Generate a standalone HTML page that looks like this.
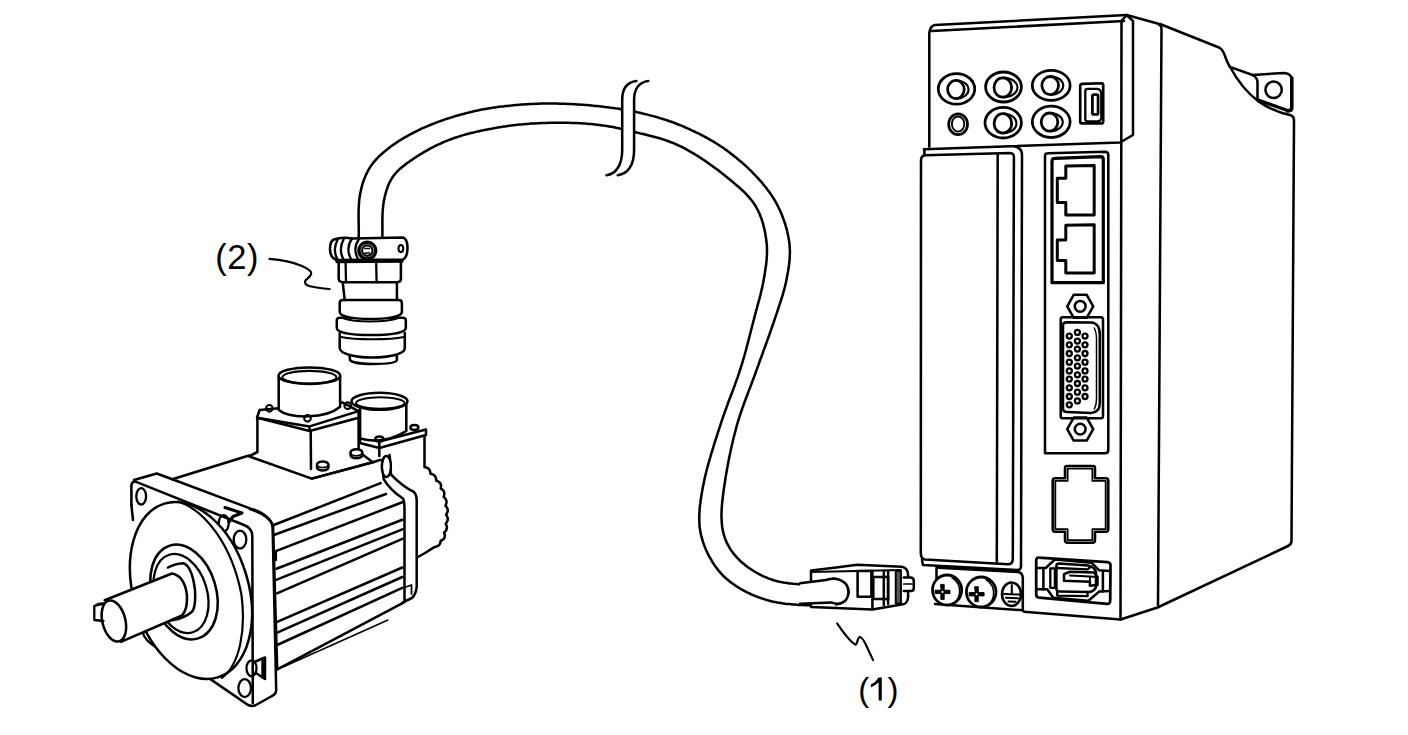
<!DOCTYPE html>
<html><head><meta charset="utf-8">
<style>
html,body{margin:0;padding:0;background:#fff;width:1408px;height:735px;overflow:hidden}
svg{display:block}
text{font-family:"Liberation Sans",sans-serif}
</style></head><body>
<svg width="1408" height="735" viewBox="0 0 1408 735">
<rect width="1408" height="735" fill="#fff"/>
<g fill="none" stroke="#000" stroke-width="2.53" stroke-linejoin="round" stroke-linecap="round">
<!-- CABLE -->
<g id="cable">
<path d="M358.7,236.7 L358.7,234.7 L358.8,232.7 L358.8,230.7 L358.7,228.7 L358.7,226.7 L358.7,224.7 L358.7,222.7 L358.6,220.7 L358.6,218.7 L358.6,216.7 L358.6,214.7 L358.6,212.7 L358.6,210.7 L358.7,208.7 L358.8,206.7 L358.9,204.7 L359.0,202.7 L359.2,200.7 L359.4,198.7 L359.7,196.8 L360.0,194.8 L360.4,192.8 L360.8,190.9 L361.2,188.9 L361.7,187.0 L362.2,185.1 L362.8,183.2 L363.4,181.3 L364.1,179.4 L364.8,177.5 L365.6,175.7 L366.4,173.9 L367.3,172.1 L368.2,170.3 L369.2,168.6 L370.3,166.9 L371.4,165.3 L372.6,163.7 L373.8,162.1 L375.1,160.6 L376.4,159.1 L377.8,157.7 L379.2,156.2 L380.7,154.9 L382.2,153.5 L383.7,152.2 L385.2,150.9 L386.8,149.7 L388.3,148.4 L389.9,147.2 L391.5,146.0 L393.1,144.9 L394.8,143.7 L396.4,142.6 L398.1,141.5 L399.8,140.4 L401.5,139.4 L403.2,138.3 L404.9,137.3 L406.7,136.3 L408.4,135.4 L410.2,134.4 L411.9,133.5 L413.7,132.6 L415.5,131.7 L417.3,130.8 L419.1,129.9 L420.9,129.0 L422.7,128.2 L424.5,127.4 L426.4,126.6 L428.2,125.8 L430.1,125.0 L431.9,124.3 L433.8,123.6 L435.6,122.8 L437.5,122.1 L439.4,121.4 L441.3,120.8 L443.1,120.1 L445.0,119.4 L446.9,118.8 L448.8,118.2 L450.7,117.6 L452.6,117.0 L454.6,116.4 L456.5,115.8 L458.4,115.3 L460.3,114.7 L462.2,114.2 L464.2,113.7 L466.1,113.1 L468.0,112.7 L470.0,112.2 L471.9,111.7 L473.9,111.3 L475.8,110.8 L477.8,110.4 L479.7,110.0 L481.7,109.6 L483.7,109.2 L485.6,108.9 L487.6,108.6 L489.6,108.2 L491.6,107.9 L493.5,107.6 L495.5,107.4 L497.5,107.1 L499.5,106.8 L501.5,106.6 L503.5,106.4 L505.4,106.1 L507.4,105.9 L509.4,105.7 L511.4,105.5 L513.4,105.3 L515.4,105.1 L517.4,105.0 L519.4,104.8 L521.4,104.6 L523.4,104.5 L525.4,104.3 L527.4,104.2 L529.3,104.1 L531.3,104.0 L533.3,103.9 L535.3,103.8 L537.3,103.7 L539.3,103.7 L541.3,103.6 L543.3,103.6 L545.3,103.6 L547.3,103.6 L549.3,103.6 L551.3,103.6 L553.3,103.6 L555.3,103.6 L557.3,103.6 L559.3,103.7 L561.3,103.7 L563.3,103.8 L565.3,103.8 L567.3,103.9 L569.3,104.0 L571.3,104.1 L573.3,104.2 L575.3,104.3 L577.3,104.4 L579.3,104.5 L581.3,104.7 L583.3,104.8 L585.3,105.0 L587.3,105.1 L589.3,105.3 L591.3,105.5 L593.3,105.7 L595.3,105.9 L597.2,106.1 L599.2,106.3 L601.2,106.5 L603.2,106.7 L605.2,107.0 L607.2,107.2 L609.2,107.5 L611.1,107.7 L613.1,108.0 L615.1,108.3 L617.1,108.5 L619.1,108.8 L621.0,109.2 L623.0,109.5 L625.0,109.8 L627.0,110.2 L628.9,110.5 L630.9,110.9 L632.8,111.3 L634.8,111.7 L636.8,112.1 L638.7,112.6 L640.7,113.0 L642.6,113.5 L644.6,113.9 L646.5,114.4 L648.4,114.9 L650.4,115.4 L652.3,115.9 L654.2,116.4 L656.2,116.9 L658.1,117.5 L660.0,118.1 L661.9,118.7 L663.8,119.3 L665.7,119.9 L667.6,120.5 L669.5,121.2 L671.4,121.8 L673.3,122.5 L675.1,123.2 L677.0,124.0 L678.9,124.7 L680.7,125.4 L682.6,126.2 L684.4,127.0 L686.2,127.8 L688.1,128.6 L689.9,129.4 L691.7,130.3 L693.5,131.1 L695.3,132.0 L697.1,132.8 L698.9,133.7 L700.7,134.6 L702.5,135.5 L704.2,136.5 L706.0,137.4 L707.8,138.4 L709.5,139.4 L711.2,140.4 L713.0,141.4 L714.7,142.4 L716.4,143.5 L718.1,144.5 L719.7,145.6 L721.4,146.7 L723.1,147.8 L724.7,149.0 L726.3,150.1 L727.9,151.3 L729.5,152.5 L731.1,153.7 L732.7,154.9 L734.3,156.2 L735.9,157.4 L737.4,158.7 L738.9,160.0 L740.5,161.3 L742.0,162.6 L743.5,163.9 L745.0,165.2 L746.4,166.6 L747.9,167.9 L749.3,169.3 L750.8,170.7 L752.2,172.1 L753.6,173.6 L755.0,175.0 L756.3,176.5 L757.7,177.9 L759.0,179.4 L760.4,180.9 L761.7,182.4 L763.0,183.9 L764.2,185.5 L765.5,187.0 L766.7,188.6 L767.9,190.2 L769.1,191.8 L770.3,193.5 L771.4,195.1 L772.5,196.8 L773.6,198.5 L774.6,200.2 L775.6,201.9 L776.6,203.6 L777.5,205.4 L778.4,207.2 L779.3,209.0 L780.1,210.8 L780.9,212.6 L781.7,214.5 L782.4,216.3 L783.1,218.2 L783.8,220.1 L784.5,222.0 L785.1,223.9 L785.7,225.8 L786.2,227.7 L786.8,229.6 L787.2,231.6 L787.7,233.5 L788.1,235.5 L788.5,237.4 L788.8,239.4 L789.1,241.4 L789.4,243.3 L789.6,245.3 L789.7,247.3 L789.8,249.3 L789.9,251.3 L789.9,253.3 L789.8,255.3 L789.7,257.3 L789.6,259.3 L789.4,261.3 L789.2,263.3 L789.0,265.2 L788.7,267.2 L788.4,269.2 L788.1,271.2 L787.7,273.1 L787.4,275.1 L787.0,277.1 L786.6,279.0 L786.2,281.0 L785.8,283.0 L785.3,284.9 L784.9,286.8 L784.4,288.8 L783.9,290.7 L783.3,292.6 L782.8,294.6 L782.2,296.5 L781.6,298.4 L781.0,300.3 L780.4,302.2 L779.7,304.1 L779.1,306.0 L778.5,307.9 L777.9,309.8 L777.2,311.7 L776.6,313.6 L775.9,315.5 L775.3,317.4 L774.7,319.3 L774.0,321.2 L773.4,323.1 L772.7,324.9 L772.1,326.8 L771.4,328.7 L770.8,330.6 L770.1,332.5 L769.5,334.4 L768.8,336.3 L768.1,338.2 L767.4,340.0 L766.8,341.9 L766.1,343.8 L765.4,345.7 L764.7,347.6 L764.0,349.4 L763.3,351.3 L762.7,353.2 L762.0,355.1 L761.3,357.0 L760.6,358.8 L759.9,360.7 L759.2,362.6 L758.6,364.5 L757.9,366.4 L757.2,368.2 L756.5,370.1 L755.8,372.0 L755.2,373.9 L754.5,375.8 L753.8,377.6 L753.1,379.5 L752.4,381.4 L751.7,383.2 L751.0,385.1 L750.3,387.0 L749.5,388.9 L748.8,390.7 L748.1,392.6 L747.4,394.5 L746.7,396.3 L746.0,398.2 L745.3,400.1 L744.6,402.0 L743.9,403.8 L743.3,405.7 L742.6,407.6 L741.9,409.5 L741.3,411.4 L740.6,413.3 L740.0,415.2 L739.4,417.1 L738.8,419.0 L738.2,420.9 L737.6,422.8 L737.1,424.7 L736.5,426.7 L736.0,428.6 L735.5,430.5 L735.0,432.5 L734.5,434.4 L734.0,436.3 L733.5,438.3 L733.0,440.2 L732.6,442.2 L732.1,444.1 L731.7,446.1 L731.2,448.0 L730.8,450.0 L730.4,451.9 L730.0,453.9 L729.6,455.8 L729.2,457.8 L728.8,459.8 L728.4,461.7 L728.0,463.7 L727.7,465.7 L727.3,467.6 L727.0,469.6 L726.6,471.6 L726.3,473.5 L725.9,475.5 L725.6,477.5 L725.3,479.5 L725.0,481.4 L724.7,483.4 L724.4,485.4 L724.1,487.4 L723.8,489.3 L723.5,491.3 L723.3,493.3 L723.0,495.3 L722.8,497.3 L722.6,499.3 L722.3,501.2 L722.1,503.2 L722.0,505.2 L721.8,507.2 L721.7,509.2 L721.6,511.2 L721.5,513.2 L721.5,515.2 L721.5,517.2 L721.6,519.2 L721.7,521.2 L721.8,523.2 L722.0,525.2 L722.2,527.2 L722.6,529.1 L722.9,531.1 L723.4,533.0 L723.9,534.9 L724.5,536.8 L725.1,538.7 L725.9,540.6 L726.7,542.4 L727.5,544.2 L728.5,545.9 L729.5,547.7 L730.5,549.4 L731.6,551.0 L732.8,552.6 L734.0,554.2 L735.3,555.7 L736.6,557.2 L738.0,558.7 L739.4,560.1 L740.8,561.5 L742.3,562.8 L743.9,564.1 L745.4,565.3 L747.0,566.5 L748.6,567.7 L750.3,568.8 L751.9,569.9 L753.6,571.0 L755.3,572.0 L757.1,573.0 L758.8,574.0 L760.6,574.9 L762.4,575.8 L764.2,576.6 L766.0,577.4 L767.9,578.2 L769.7,578.9 L771.6,579.5 L773.5,580.2 L775.4,580.7 L777.4,581.2 L779.3,581.7 L781.2,582.1 L783.2,582.5 L785.2,582.8 L787.2,583.1 L789.1,583.4 L791.1,583.6 L793.1,583.8 L795.1,583.9 L797.1,584.1 L799.1,584.2 L801.1,584.2 L803.1,584.3 L805.1,584.3 L807.1,584.3 L809.1,584.3 L811.1,584.2 L813.1,584.1 L815.1,583.9 L817.1,583.7 L819.0,583.4 L821.0,583.1 L822.9,582.7 L824.9,582.2 L826.8,581.7 L828.8,581.3 L830.6,580.6 L832.5,579.8 L834.4,579.2"/>
<path d="M382.3,236.7 L382.4,234.7 L382.4,232.7 L382.4,230.7 L382.4,228.7 L382.4,226.7 L382.4,224.7 L382.4,222.7 L382.4,220.7 L382.4,218.7 L382.5,216.7 L382.5,214.7 L382.6,212.7 L382.7,210.7 L382.9,208.7 L383.1,206.7 L383.3,204.8 L383.6,202.8 L383.9,200.8 L384.3,198.9 L384.7,196.9 L385.2,195.0 L385.7,193.0 L386.3,191.1 L386.9,189.2 L387.5,187.3 L388.2,185.5 L389.0,183.6 L389.9,181.8 L390.8,180.1 L391.8,178.4 L392.9,176.7 L394.1,175.1 L395.3,173.6 L396.7,172.1 L398.0,170.7 L399.5,169.3 L401.0,168.0 L402.5,166.7 L404.1,165.5 L405.7,164.3 L407.3,163.1 L408.9,161.9 L410.5,160.7 L412.2,159.6 L413.8,158.5 L415.5,157.4 L417.2,156.3 L418.9,155.2 L420.6,154.2 L422.3,153.1 L424.0,152.1 L425.7,151.1 L427.5,150.1 L429.2,149.2 L431.0,148.2 L432.7,147.3 L434.5,146.4 L436.3,145.5 L438.1,144.6 L439.9,143.8 L441.8,143.0 L443.6,142.2 L445.4,141.4 L447.3,140.6 L449.1,139.9 L451.0,139.2 L452.9,138.5 L454.8,137.8 L456.7,137.2 L458.6,136.6 L460.5,136.0 L462.4,135.4 L464.3,134.9 L466.2,134.3 L468.2,133.8 L470.1,133.3 L472.0,132.8 L474.0,132.4 L475.9,131.9 L477.9,131.4 L479.8,131.0 L481.8,130.6 L483.7,130.2 L485.7,129.8 L487.7,129.4 L489.6,129.0 L491.6,128.7 L493.6,128.3 L495.5,127.9 L497.5,127.6 L499.5,127.3 L501.4,127.0 L503.4,126.6 L505.4,126.4 L507.4,126.1 L509.4,125.8 L511.3,125.5 L513.3,125.3 L515.3,125.1 L517.3,124.8 L519.3,124.6 L521.3,124.4 L523.3,124.3 L525.3,124.1 L527.3,123.9 L529.3,123.8 L531.2,123.6 L533.2,123.5 L535.2,123.4 L537.2,123.3 L539.2,123.2 L541.2,123.1 L543.2,123.0 L545.2,122.9 L547.2,122.9 L549.2,122.8 L551.2,122.8 L553.2,122.7 L555.2,122.7 L557.2,122.7 L559.2,122.7 L561.2,122.7 L563.2,122.7 L565.2,122.8 L567.2,122.8 L569.2,122.8 L571.2,122.9 L573.2,123.0 L575.2,123.0 L577.2,123.1 L579.2,123.2 L581.2,123.3 L583.2,123.5 L585.2,123.6 L587.2,123.7 L589.2,123.9 L591.2,124.1 L593.2,124.3 L595.2,124.5 L597.1,124.7 L599.1,124.9 L601.1,125.2 L603.1,125.5 L605.1,125.7 L607.0,126.1 L609.0,126.4 L611.0,126.7 L613.0,127.1 L614.9,127.5 L616.9,127.9 L618.8,128.3 L620.8,128.7 L622.7,129.1 L624.7,129.6 L626.6,130.0 L628.6,130.5 L630.5,131.0 L632.5,131.5 L634.4,131.9 L636.4,132.4 L638.3,132.9 L640.2,133.4 L642.2,133.8 L644.1,134.3 L646.1,134.8 L648.0,135.3 L650.0,135.7 L651.9,136.2 L653.8,136.7 L655.8,137.3 L657.7,137.8 L659.6,138.3 L661.5,138.9 L663.4,139.5 L665.3,140.1 L667.2,140.8 L669.1,141.5 L671.0,142.2 L672.8,142.9 L674.7,143.7 L676.5,144.5 L678.3,145.3 L680.1,146.1 L681.9,147.0 L683.7,147.9 L685.5,148.9 L687.2,149.8 L689.0,150.8 L690.7,151.8 L692.4,152.8 L694.1,153.8 L695.8,154.9 L697.5,155.9 L699.2,157.0 L700.9,158.1 L702.6,159.2 L704.2,160.3 L705.9,161.4 L707.5,162.6 L709.2,163.7 L710.8,164.9 L712.4,166.1 L714.0,167.2 L715.6,168.4 L717.2,169.6 L718.8,170.8 L720.4,172.1 L722.0,173.3 L723.6,174.5 L725.1,175.8 L726.7,177.0 L728.2,178.3 L729.8,179.5 L731.3,180.8 L732.9,182.1 L734.4,183.4 L735.9,184.7 L737.5,186.0 L739.0,187.3 L740.5,188.6 L741.9,190.0 L743.4,191.3 L744.8,192.7 L746.2,194.2 L747.6,195.6 L748.9,197.1 L750.2,198.6 L751.5,200.2 L752.7,201.8 L753.8,203.4 L754.9,205.0 L756.0,206.7 L756.9,208.5 L757.9,210.2 L758.7,212.0 L759.6,213.9 L760.3,215.7 L761.0,217.6 L761.7,219.4 L762.3,221.3 L762.9,223.2 L763.4,225.2 L763.9,227.1 L764.4,229.1 L764.8,231.0 L765.2,233.0 L765.5,234.9 L765.8,236.9 L766.1,238.9 L766.4,240.9 L766.6,242.9 L766.8,244.8 L766.9,246.8 L767.0,248.8 L767.0,250.8 L767.0,252.8 L766.9,254.8 L766.8,256.8 L766.7,258.8 L766.5,260.8 L766.3,262.8 L766.1,264.8 L765.8,266.7 L765.5,268.7 L765.2,270.7 L764.9,272.7 L764.6,274.7 L764.3,276.6 L763.9,278.6 L763.6,280.6 L763.2,282.5 L762.8,284.5 L762.4,286.4 L762.0,288.4 L761.5,290.3 L761.0,292.3 L760.6,294.2 L760.1,296.2 L759.6,298.1 L759.1,300.0 L758.5,302.0 L758.0,303.9 L757.5,305.8 L757.0,307.8 L756.4,309.7 L755.9,311.6 L755.4,313.6 L754.9,315.5 L754.4,317.4 L753.9,319.4 L753.4,321.3 L752.9,323.2 L752.4,325.2 L751.9,327.1 L751.4,329.0 L750.9,331.0 L750.4,332.9 L749.9,334.9 L749.4,336.8 L748.9,338.7 L748.4,340.7 L747.9,342.6 L747.4,344.5 L746.9,346.5 L746.4,348.4 L745.9,350.3 L745.3,352.3 L744.8,354.2 L744.3,356.1 L743.7,358.0 L743.1,360.0 L742.6,361.9 L742.0,363.8 L741.4,365.7 L740.8,367.6 L740.2,369.5 L739.6,371.4 L739.0,373.3 L738.3,375.2 L737.7,377.1 L737.0,379.0 L736.3,380.9 L735.6,382.7 L735.0,384.6 L734.3,386.5 L733.6,388.4 L732.9,390.3 L732.2,392.1 L731.5,394.0 L730.8,395.9 L730.1,397.7 L729.3,399.6 L728.6,401.5 L727.9,403.4 L727.3,405.2 L726.6,407.1 L725.9,409.0 L725.2,410.9 L724.5,412.8 L723.9,414.6 L723.2,416.5 L722.6,418.4 L721.9,420.3 L721.3,422.2 L720.7,424.1 L720.1,426.0 L719.4,427.9 L718.8,429.8 L718.2,431.7 L717.6,433.6 L717.0,435.5 L716.4,437.4 L715.8,439.3 L715.1,441.2 L714.5,443.2 L713.9,445.1 L713.4,447.0 L712.8,448.9 L712.2,450.8 L711.6,452.7 L711.0,454.6 L710.5,456.5 L709.9,458.5 L709.3,460.4 L708.8,462.3 L708.3,464.2 L707.7,466.2 L707.2,468.1 L706.7,470.0 L706.2,472.0 L705.8,473.9 L705.3,475.9 L704.8,477.8 L704.4,479.8 L704.0,481.7 L703.6,483.7 L703.2,485.6 L702.8,487.6 L702.4,489.6 L702.1,491.5 L701.7,493.5 L701.4,495.5 L701.1,497.4 L700.8,499.4 L700.5,501.4 L700.3,503.4 L700.0,505.4 L699.8,507.4 L699.6,509.4 L699.5,511.3 L699.4,513.3 L699.3,515.3 L699.3,517.3 L699.3,519.3 L699.3,521.3 L699.4,523.3 L699.5,525.3 L699.7,527.3 L700.0,529.3 L700.3,531.2 L700.7,533.2 L701.1,535.2 L701.6,537.1 L702.1,539.0 L702.7,540.9 L703.3,542.8 L703.9,544.7 L704.7,546.6 L705.4,548.4 L706.2,550.2 L707.1,552.1 L707.9,553.9 L708.8,555.6 L709.8,557.4 L710.8,559.1 L711.8,560.9 L712.8,562.6 L713.9,564.2 L715.0,565.9 L716.2,567.5 L717.4,569.1 L718.6,570.7 L719.9,572.2 L721.2,573.7 L722.6,575.1 L724.0,576.5 L725.5,577.9 L727.0,579.2 L728.5,580.5 L730.1,581.7 L731.7,582.9 L733.3,584.1 L734.9,585.3 L736.6,586.4 L738.3,587.4 L740.0,588.5 L741.7,589.5 L743.5,590.4 L745.2,591.4 L747.0,592.3 L748.8,593.2 L750.6,594.0 L752.4,594.8 L754.3,595.6 L756.1,596.3 L758.0,597.1 L759.9,597.7 L761.8,598.4 L763.6,599.0 L765.6,599.6 L767.5,600.2 L769.4,600.7 L771.3,601.2 L773.3,601.7 L775.2,602.1 L777.2,602.5 L779.2,602.8 L781.1,603.1 L783.1,603.4 L785.1,603.7 L787.1,603.9 L789.1,604.1 L791.1,604.3 L793.1,604.5 L795.0,604.6 L797.0,604.8 L799.0,604.9 L801.0,605.0 L803.0,605.1 L805.0,605.2 L807.0,605.2 L809.0,605.3 L811.0,605.3 L813.0,605.3 L815.0,605.2 L817.0,605.1 L819.0,605.0 L821.0,604.8 L823.0,604.6 L824.9,604.2 L826.9,603.9 L828.9,603.6 L830.8,603.1 L832.7,602.5 L834.6,601.9"/>
<!-- break marks -->
<path d="M622.2,100 C622.2,88 628,82 636.4,81 L648.3,81 C640,82 634.1,88 634.1,100 L634.1,150 C634.1,165 628,174 617.7,175.2 L606.5,175.2 C616,174 622.2,165 622.2,150 Z" fill="#fff" stroke="none"/>
<path d="M606.5,175.2 C616,174 622.2,165 622.2,150 L622.2,100 C622.2,88 628,82 636.4,81"/>
<path d="M617.7,175.2 C628,174 634.1,165 634.1,150 L634.1,100 C634.1,88 640,82 648.3,81"/>
</g>
<!-- PLUG 1 -->
<g id="plug1">
<path d="M811,570.5 L836.2,567.6 L857.1,564.8 L901.9,566.7 Q908.1,568 908.1,575 L908.1,597.6 Q907,604 902.9,604.3 L872.4,609.5 L811,607.1 Z" fill="#fff"/>
<path d="M811,572 L857.1,571 L901,570" stroke-width="2.07"/>
<path d="M800,583.3 L826,580 Q838,576 846,584 Q851,592 846,600 Q840,606 831.4,602.4 L800,603.8" fill="#fff"/>
<path d="M833,578 Q848,580 849,592 Q848,603 836,605" stroke-width="1.72"/>
<rect x="857.6" y="571" width="13.8" height="25.7"/>
<path d="M872.4,571 L872.4,609"/>
<rect x="873.3" y="577.1" width="14.8" height="21.9"/>
<path d="M883.8,571 L883.8,605"/>
<path d="M888.1,571 L888.1,604"/>
<rect x="895.7" y="571" width="5.3" height="32.3" fill="#555" stroke-width="1.84"/>
<path d="M903.8,577.6 L911,577.6 Q913.8,578 913.8,581 L913.8,588 Q913.8,591 911,591 L903.8,591" fill="#fff"/>
<path d="M903.8,584 L912,584" stroke-width="1.72"/>
</g>
<!-- CONNECTOR 2 -->
<g id="conn2">
<path d="M349.6,355 L350,360 C352,363 365,364 373,364 C385,364 396,363 396.9,360 L396.9,355" fill="#fff"/>
<path d="M339.7,333 L339.7,348 C340,354 355,357.5 372,357.5 C390,357.5 404.8,354 404.8,348 L404.8,333" fill="#fff"/>
<path d="M341,337 C355,340 390,340 404,337" stroke-width="2.07"/>
<path d="M336.8,320 Q336.8,317.7 340,317.7 L402.6,317.7 Q405.8,317.7 405.8,320 L405.8,328 C405.8,333 390,335 371.3,335 C352,335 336.8,333 336.8,328 Z" fill="#fff"/>
<path d="M339.7,303 Q339.7,300 343,300 L398.5,300 Q401.9,300 401.9,303 L401.9,312 C401.9,317 385,319 370.8,319 C356,319 339.7,317 339.7,312 Z" fill="#fff"/>
<path d="M344,318.5 C355,322.5 385,322.5 397,318.5" stroke-width="2.07"/>
<path d="M342.7,282.2 L344.7,300 M396.9,282.2 L396.9,300"/>
<path d="M338.7,262 L338.7,279 Q339,282.2 343,282.2 L397,282.2 Q400.9,282 400.9,279 L400.9,262" fill="#fff"/>
<path d="M345.6,263 L346,282 M376.2,263 L376.6,282" stroke-width="2.30"/>
<path d="M337,261.5 L402,261" stroke-width="3.45"/>
<path d="M334,239.5 Q342,236.5 352,238.5 L403,237.5 Q407.5,239 407.5,248 Q407.5,257 403,259.5 L337,260 Q330,258 330,249 Q330,241 334,239.5 Z" fill="#fff"/>
<path d="M338,239 Q332,249 337.5,259.5 M344,238.5 Q338,249 343.5,259.5 M352,238.5 Q345,249 351.5,259.8 M359,239 Q352,249 358.5,259.8" stroke-width="2.30"/>
<circle cx="367.3" cy="250.6" r="8.4" fill="#fff" stroke-width="3.4"/>
<circle cx="367.3" cy="250.6" r="5.2" stroke-width="2.2"/>
<path d="M365,248.5 L369.5,248.5 M365,253 L369.5,253" stroke-width="1.72"/>
<ellipse cx="400.9" cy="248.6" rx="2.4" ry="3.5" stroke-width="2.07"/>
</g>
<!-- squiggles -->
<path d="M269.4,258.8 C280,259.5 293,262 302,265.9 C308,268.5 312,271 311.2,274 C310.5,277 306,279 305.1,281.2 C304.5,284 307,285.5 310,286.3 C316,287.8 323,288.5 329.6,289" stroke-width="2.18"/>
<path d="M837.2,623.5 C843,632 849,641 855.2,644.4 C857.5,645.5 857,638 859.7,637 C862,636.5 864,641 866,645 L873.1,660.1" stroke-width="2.18"/>
<!-- MOTOR -->
<g id="motor">
<!-- rear housing jagged -->
<path d="M424.5,436 L424.5,467 L424.5,467.0 L425.6,467.3 L426.7,467.7 L427.7,468.1 L428.6,468.7 L429.2,469.5 L429.8,470.4 L430.1,471.4 L430.3,472.5 L430.5,473.7 L431.6,474.0 L432.7,474.4 L433.7,474.9 L434.5,475.6 L435.1,476.3 L435.6,477.3 L436.0,478.3 L436.2,479.4 L436.3,480.6 L437.4,481.1 L438.4,481.6 L439.3,482.2 L440.0,483.0 L440.6,483.9 L440.9,484.9 L441.0,486.1 L440.9,487.2 L440.7,488.4 L441.7,489.1 L442.6,489.8 L443.3,490.6 L443.9,491.5 L444.2,492.5 L444.3,493.5 L444.2,494.6 L444.0,495.8 L443.7,496.9 L444.5,497.7 L445.3,498.6 L445.9,499.5 L446.3,500.4 L446.5,501.4 L446.5,502.5 L446.3,503.5 L445.9,504.6 L445.5,505.7 L446.2,506.6 L446.9,507.6 L447.4,508.5 L447.7,509.5 L447.7,510.6 L447.6,511.6 L447.2,512.6 L446.7,513.7 L446.1,514.7 L446.7,515.7 L447.2,516.7 L447.6,517.7 L447.8,518.7 L447.7,519.8 L447.5,520.8 L447.0,521.8 L446.4,522.7 L445.7,523.7 L446.2,524.7 L446.6,525.8 L446.9,526.9 L446.9,527.9 L446.7,528.9 L446.4,529.9 L445.8,530.8 L445.0,531.7 L444.2,532.5 L444.5,533.7 L444.8,534.8 L444.8,535.9 L444.7,537.0 L444.3,538.0 L443.7,538.9 L442.8,539.7 L441.8,540.3 L440.7,540.7 L440.5,541.9 L440.2,543.1 L439.8,544.1 L439.1,544.9 L438.4,545.6 L437.5,546.1 L436.5,546.5 L435.4,546.8 L434.3,547.1 L425,553 L417,557.5" fill="#fff"/>
<!-- encoder connector -->
<path d="M360,437 L379.3,441.5 L426,429.5 L426,435 L379.3,448 L360,443 Z" fill="#fff"/>
<path d="M379.3,441.5 L379.3,456"/>
<path d="M360.1,403 L360.1,438.5 Q383,445 406.3,431 L406.3,403" fill="#fff"/>
<ellipse cx="379.5" cy="401.2" rx="28" ry="8.5" fill="#fff"/>
<ellipse cx="380.3" cy="403" rx="24.3" ry="5.8" stroke-width="2.07"/>
<ellipse cx="379.3" cy="439" rx="4" ry="2.4" stroke-width="2.53"/>
<ellipse cx="414.4" cy="427.5" rx="4" ry="2.4" stroke-width="2.53"/>
<!-- power box -->
<path d="M257.4,417.7 L257.4,452 L249,456.3 L311.8,478.6 L372.8,462.3 L358.6,451.4 L358.6,417.7" fill="#fff"/>
<path d="M310.7,430.7 L311,469"/>
<path d="M257,417.7 L259.6,410 L342.3,402.4 L358.6,411.1 L309.6,426.4 Z" fill="#fff"/>
<path d="M257.4,417.7 L309.6,431 L358.6,417.7 L358.6,411.1 M309.6,426.4 L309.6,431"/>
<path d="M278.7,375.7 L278.7,410 C290,419 326,419 340.1,406.8 L340.1,375.7" fill="#fff"/>
<ellipse cx="309.4" cy="375.7" rx="30.8" ry="8.3" fill="#fff"/>
<ellipse cx="309.4" cy="377.2" rx="27" ry="6.3" stroke-width="2.07"/>
<circle cx="269.4" cy="408.3" r="3.3" stroke-width="2.07"/>
<circle cx="307.5" cy="418.3" r="3.3" stroke-width="2.07"/>
<circle cx="347.7" cy="405.7" r="3.3" stroke-width="2.07"/>
<path d="M317,464.5 a5.7,3 0 0 1 11.4,0 L328.4,467.5 a5.7,3 0 0 1 -11.4,0 Z" fill="#fff"/>
<path d="M317,464.5 a5.7,3 0 0 0 11.4,0" stroke-width="1.72"/>
<path d="M350.5,452.5 a5.9,3.3 0 0 1 11.8,0 L362.3,455 a5.9,3.3 0 0 1 -11.8,0 Z" fill="#fff"/>
<path d="M350.5,452.5 a5.9,3.3 0 0 0 11.8,0" stroke-width="1.72"/>
<!-- body top -->
<path d="M172.3,479.2 L249,455.5"/>
<path d="M311.8,478.6 L372.8,462.3 L380,460"/>
<!-- fins side face -->
<path d="M250,509 Q268,515 273,525 L277.2,669.3"/>
<path d="M273.1,525.3 L380.6,483.1 M274.5,534.8 L386,494 M275.8,551.1 L402.3,502.2 M276.5,568.8 L402.3,519.8 M276.8,579.7 L402.3,529.4 M277,593.3 L402.3,538.9 M277.2,621.9 L402.3,567.5 M277.2,632.7 L402.3,577 M277.2,645 L402.3,587.9 M277.3,669.3 L404,602.4"/>
<path d="M275.8,551.1 L275.8,560" />
<path d="M283,667 L388,620" stroke-width="1.38"/>
<!-- clamp band -->
<path d="M382.4,459.6 Q383,472 383.7,479.1 Q390,490 403.2,498.7 Q404.5,502 404.5,508 L404.5,601.5 L402,603" fill="none"/>
<path d="M389.5,455 Q391,466 390.9,474.3 Q402,486 414,492 Q416.7,495 416.7,500 L416.7,586.8 Q416,594 412,598 L404.5,601.5"/>
<path d="M405.8,587 L411.5,585 L411.5,594" stroke-width="1.8"/>
<ellipse cx="386.3" cy="466.5" rx="4.6" ry="10.5" stroke-width="2.3" fill="#fff"/><path d="M384,458 Q380.5,466 384,476" stroke-width="1.6"/>
<!-- flange -->
<path d="M133.9,480 L156.7,473.5 L172.3,479.2 L250.6,508.6 Q262,512 268,518 Q272.7,522 272.7,530 L276.2,690 Q276.2,694 272,696 L255,705.5 Q251.6,706.5 248,705 L210,678.9" fill="none"/>
<path d="M131.4,505 L131.4,486 Q131.4,481.6 135.5,481.6 L244,525 Q252.3,528 252.3,536 L252.8,703"/>
<path d="M131.4,505 L133,520"/>
<ellipse cx="141.2" cy="496.3" rx="4.9" ry="8.2" stroke-width="2.30"/>
<ellipse cx="240" cy="539.6" rx="6.3" ry="9" stroke-width="2.30"/>
<ellipse cx="244.7" cy="688.1" rx="6.3" ry="9" stroke-width="2.30"/>
<ellipse cx="223.7" cy="523.3" rx="5" ry="8.2" stroke-width="2.30"/>
<path d="M225,507.5 L242,513 L233,516.5 L229,522" stroke-width="2.99"/>
<ellipse cx="251.5" cy="668.3" rx="5" ry="8" stroke-width="2.30"/>
<path d="M255.5,661.5 L265,657.5 L265,679 L256,673" stroke-width="2.53"/><path d="M263,659 L263,677" stroke-width="3.45"/>
<!-- pilot face -->
<path d="M142.5,632 Q145,642 159,648.6 L160.5,645 Q156,640 152,633" stroke-width="2.30" fill="#fff"/><path d="M146,631.5 Q149,636.5 153.5,637.5" stroke-width="1.84"/>
<ellipse cx="191" cy="590.5" rx="57.4" ry="90.9" transform="rotate(-17.1 191 590.5)" fill="#fff"/>
<path d="M178,501.5 C205,510 232,545 241.5,595 C246,630 240,664 222,678" stroke-width="2.18"/>
<ellipse cx="184" cy="592" rx="32" ry="48.5" transform="rotate(-17 184 592)"/>
<ellipse cx="181" cy="593.5" rx="26" ry="40.5" transform="rotate(-17 181 593.5)" stroke-width="2.30"/>
<!-- shaft -->
<path d="M168,567.5 Q175,563.5 183.4,563.2 Q192,566 195,590 Q196,608 191.6,612 Q185,618 172,620.3" fill="#fff"/>
<path d="M104.7,600.2 L172,573.5 Q185,576 187,596 Q187.5,610 182,615.5 L120.9,641.8" fill="#fff"/>
<ellipse cx="113.9" cy="621" rx="11.5" ry="21" transform="rotate(-14 113.9 621)" fill="#fff"/>
<path d="M103.5,604 L94.3,606 L94.3,620 L103.5,621" stroke-width="2.30"/>
<path d="M94.3,606 L98,603.6 L103.5,603" stroke-width="1.72"/>
</g>
<!-- DRIVE -->
<g id="drive">
<!-- side face -->
<path d="M1126.7,15 L1157.5,23.5 Q1161.5,25 1161.5,29 L1158,605"/>
<path d="M1160,24 L1219.6,47.7 Q1223,50 1225,56 Q1227,62 1229.8,66.9 L1252.6,75 L1284.2,72.9 Q1291.8,73.5 1291.8,80"/>
<path d="M1291.8,78 L1291.8,108 Q1291.5,110.9 1287.5,110.9" stroke-width="3.6"/>
<path d="M1229.8,66.5 C1236,78 1246,92 1258.1,101.1 C1268,108 1280,113 1290.7,115.3 Q1294,116.5 1294,120 L1291.5,541 Q1291.5,544.5 1288,546 L1157.5,607.5 L1120.5,619.5"/>
<path d="M1257.5,99.8 L1287.5,110.6" stroke-width="3.2"/>
<path d="M1252.6,75 Q1257.5,78 1257.5,82 L1257.5,99.5"/>
<circle cx="1273.6" cy="89.8" r="8.2"/>
<!-- front right bevel -->
<path d="M1121.5,21 L1126.7,15 L1133,21 L1133,135 L1120,142.5 L923.9,149.2"/>
<path d="M1121.5,21 L1120.5,619.5 L1024,611.7 L1023.3,611"/>
<!-- top panel -->
<path d="M929.3,146.7 L929.3,33 Q930,26 935,25 L1126.7,15"/>
<path d="M931.7,31 L1124,21"/>
<!-- knobs -->
<g>
<ellipse cx="956.5" cy="88.9" rx="18.2" ry="15.3" stroke-width="2.76"/><ellipse cx="955.9" cy="89.5" rx="8.3" ry="9.1" stroke-width="2.76"/><path d="M956.9,80.2 C972.4,81.6 972.4,97.4 956.9,98.8" stroke-width="2.07"/>
<ellipse cx="1003.5" cy="87" rx="17.9" ry="15" stroke-width="2.76"/><ellipse cx="1002.8" cy="87.5" rx="8.8" ry="9.7" stroke-width="2.76"/><path d="M1003.8,77.6 C1022.1,79.1 1022.1,95.9 1003.8,97.4" stroke-width="2.07"/>
<ellipse cx="1051.2" cy="85.4" rx="18.9" ry="15" stroke-width="2.76"/><ellipse cx="1050.2" cy="85.6" rx="8.3" ry="9.1" stroke-width="2.76"/><path d="M1051.2,76.3 C1067.3,77.7 1067.3,93.5 1051.2,94.9" stroke-width="2.07"/>
<ellipse cx="1003.2" cy="122.7" rx="18.2" ry="15.3" stroke-width="2.76"/><ellipse cx="1002.9" cy="123.4" rx="8.8" ry="9.7" stroke-width="2.76"/><path d="M1003.9,113.5 C1020.7,115.0 1020.7,131.8 1003.9,133.3" stroke-width="2.07"/>
<ellipse cx="1051.2" cy="121.8" rx="18.9" ry="15.7" stroke-width="2.76"/><ellipse cx="1049.5" cy="122.1" rx="8.3" ry="9.1" stroke-width="2.76"/><path d="M1050.5,112.8 C1066.9,114.2 1066.9,130.0 1050.5,131.4" stroke-width="2.07"/>
<ellipse cx="958.1" cy="124.3" rx="9.4" ry="10.4" stroke-width="2.76"/><ellipse cx="958.1" cy="124" rx="6.2" ry="7.5" stroke-width="1.84"/>
<path d="M1082.5,83.9 L1101.5,83.2 Q1103.2,83.2 1103.2,85 L1103.2,121.5 Q1103.2,123.4 1101.5,123.4 L1082,123.4 Q1080.2,123.4 1080.2,121.5 L1080.2,86 Q1080.2,84 1082.5,83.9 Z" stroke-width="2.64"/>
<path d="M1087.5,88.8 L1097,88.8 Q1101.3,89 1101.3,95 L1101.3,117 Q1101.3,121.4 1097,121.4 L1087.5,121.4 Q1085.3,121.4 1085.3,119 L1085.3,91 Q1085.3,88.8 1087.5,88.8 Z" stroke-width="2.30"/>
<rect x="1092.4" y="94.6" width="5.7" height="19.8" rx="1.5" stroke-width="2.76"/>
</g>
<!-- door frame -->
<path d="M924.4,155.6 L924.4,149.2 M1015,146.6 Q1022,148 1022,155 L1021,566 Q1021,570 1017.6,570 L922.9,565.1 L922,559.4"/>
<path d="M920.8,553 L921,160 Q921.2,155.6 925,155.2 L1010,153.1 Q1013.9,153.3 1013.9,157 L1012.8,559 Q1012.7,564.3 1008,564.3 L925,559.4 Q920.8,559 920.8,553 Z"/>
<path d="M997.7,154 L996.8,562.5"/>
<!-- terminal block -->
<path d="M936.5,568 L936.5,580 M935,604 L1022.8,610.3 L1022.8,578 Q1022.5,572.5 1018,572 L938,567.8"/>
<ellipse cx="947.1" cy="590" rx="14.6" ry="15" fill="#fff" stroke-width="2.76"/>
<path d="M952,577.5 Q961,583 959.5,594 Q958,602 951,604" stroke-width="1.61"/>
<path d="M940.8,584.4 L944.2,584.4 L944.2,590.1999999999999 L950.0,590.1999999999999 L950.0,593.6 L944.2,593.6 L944.2,599.4 L940.8,599.4 L940.8,593.6 L935.0,593.6 L935.0,590.1999999999999 L940.8,590.1999999999999 Z" fill="#000" stroke-width="0.92"/><path d="M942.5,590.6 L943.8,591.9 L942.5,593.1999999999999 L941.2,591.9 Z" fill="#fff" stroke="none"/>
<ellipse cx="981.2" cy="592" rx="14.8" ry="15" fill="#fff" stroke-width="2.76"/>
<path d="M986,579.5 Q995,585 993.5,596 Q992,604 985,606" stroke-width="1.61"/>
<path d="M974.9,586.7 L978.3000000000001,586.7 L978.3000000000001,592.5 L984.1,592.5 L984.1,595.9000000000001 L978.3000000000001,595.9000000000001 L978.3000000000001,601.7 L974.9,601.7 L974.9,595.9000000000001 L969.1,595.9000000000001 L969.1,592.5 L974.9,592.5 Z" fill="#000" stroke-width="0.92"/><path d="M976.6,592.9000000000001 L977.9,594.2 L976.6,595.5 L975.3000000000001,594.2 Z" fill="#fff" stroke="none"/>
<ellipse cx="1011.5" cy="594.2" rx="9.5" ry="11.8" stroke-width="2.53"/>
<path d="M1011.8,585 L1011.8,593.5 M1004,594 L1020,594.5 M1006,597.8 L1018,598.3 M1008.5,601.5 L1015.5,601.8" stroke-width="2.07"/>
<!-- channel -->
<path d="M1045,453.3 L1045,156 Q1045,153.3 1048,153.3 L1105,151.7 Q1108.3,151.7 1108.3,155 L1108.3,450 Q1108.3,453.3 1105,453.3 Z"/>
<path d="M1052,282.7 L1052,161 Q1052,158.3 1055,158.3 L1100.5,156.7 Q1103.3,156.7 1103.3,159.5 L1103.3,282.7 Z" stroke-width="3.22"/>
<path d="M1065.8,166 L1094.2,165.6 L1094.2,215 L1065.8,215 L1065.8,202.5 L1057.3,202.5 L1057.3,178.3 L1065.8,178.3 Z" stroke-width="2.99"/>
<path d="M1065.8,225.2 L1094.2,224.8 L1094.2,273 L1065.8,273 L1065.8,260.5 L1057.3,260.5 L1057.3,240 L1065.8,240 Z" stroke-width="2.99"/>
<!-- dsub -->
<path d="M1062.5,317.2 L1101,317.2 Q1103,317.2 1103,319.5 L1103,416 Q1103,418.3 1101,418.3 L1062.5,418.3 Q1060.7,418.3 1060.7,416 L1060.7,319.5 Q1060.7,317.2 1062.5,317.2 Z"/>
<path d="M1063,325 Q1063,322.5 1067,322.3 L1091,322.6 Q1099.8,323 1099.8,335 L1099.8,403 Q1099.8,412.5 1091,413 L1067,412 Q1063,412 1063,409 Z"/>
<path d="M1094.3,328 Q1096.5,332 1096.5,338 L1096.5,399 Q1096.5,405 1094.3,409" stroke-width="1.49"/>
<path d="M1067.2,306.3 L1073.7,294.8 L1086.7,294.8 L1093.2,306.3 L1086.7,317.8 L1073.7,317.8 Z"/>
<circle cx="1080.2" cy="306.3" r="5.4"/>
<path d="M1067.2,429.1 L1073.7,417.6 L1086.7,417.6 L1093.2,429.1 L1086.7,440.6 L1073.7,440.6 Z"/>
<circle cx="1080.2" cy="429.1" r="5.4"/>
<g stroke-width="2.3" id="pins"><circle cx="1069.3" cy="336.1" r="2.5"/><circle cx="1069.3" cy="344.8" r="2.5"/><circle cx="1069.3" cy="353.5" r="2.5"/><circle cx="1069.3" cy="362.2" r="2.5"/><circle cx="1069.3" cy="370.9" r="2.5"/><circle cx="1069.3" cy="379.1" r="2.5"/><circle cx="1069.3" cy="387.8" r="2.5"/><circle cx="1069.3" cy="396.5" r="2.5"/><circle cx="1069.3" cy="404.8" r="2.5"/><circle cx="1077.4" cy="332.4" r="2.5"/><circle cx="1077.4" cy="341.1" r="2.5"/><circle cx="1077.4" cy="349.1" r="2.5"/><circle cx="1077.4" cy="357.8" r="2.5"/><circle cx="1077.4" cy="366.1" r="2.5"/><circle cx="1077.4" cy="374.8" r="2.5"/><circle cx="1077.4" cy="383.5" r="2.5"/><circle cx="1077.4" cy="392.2" r="2.5"/><circle cx="1077.4" cy="400.9" r="2.5"/><circle cx="1085" cy="336.1" r="2.5"/><circle cx="1085" cy="344.8" r="2.5"/><circle cx="1085" cy="353.5" r="2.5"/><circle cx="1085" cy="362.2" r="2.5"/><circle cx="1085" cy="370.9" r="2.5"/><circle cx="1085" cy="379.1" r="2.5"/><circle cx="1085" cy="387.8" r="2.5"/><circle cx="1085" cy="396.5" r="2.5"/></g>
<!-- cross connector -->
<path d="M1067,466 Q1065,466 1065,468 L1065,478.3 L1055,478.3 Q1052.7,478.3 1052.7,481 L1052.7,529 Q1052.7,531.7 1055,531.7 L1065,531.7 L1065,540 Q1065,542.7 1067.5,542.7 L1092.5,542.7 Q1095,542.7 1095,540 L1095,531.7 L1106,531.7 Q1108.3,531.7 1108.3,529 L1108.3,481 Q1108.3,478.3 1106,478.3 L1095,478.3 L1095,468 Q1095,466 1093,466 Z"/>
<path d="M1067.6,468.6 L1092.4,468.6 L1092.4,480.9 L1105.7,480.9 L1105.7,529.1 L1092.4,529.1 L1092.4,540.1 L1067.6,540.1 L1067.6,529.1 L1055.3,529.1 L1055.3,480.9 L1067.6,480.9 Z" stroke-width="1.84"/>
<!-- bottom connector -->
<path d="M1038.5,557.7 L1107.5,562.2 Q1110.5,562.5 1110.5,565.5 L1110.2,601 Q1110,604 1107,603.8 L1039,597.7 Q1036.2,597.4 1036.2,594.5 L1036.2,561 Q1036.2,557.6 1038.5,557.7 Z" stroke-width="2.76"/>
<path d="M1037,568 L1045.7,568 L1054.9,559.5 L1091.5,562.7 L1099.1,570.3 L1109.5,571 M1109.5,591 L1099.1,591.6 L1088.4,600.8 L1053.3,597.7 L1047.2,589.3 L1037,589.3" stroke-width="2.53"/>
<path d="M1043.4,568 L1043.4,589.3 M1102.9,571.8 L1102.9,591.6" stroke-width="2.53"/>
<path d="M1050.3,568.4 L1054.9,568.4 L1054.9,587.8 L1050.3,587.8 Z" stroke-width="2.30"/>
<path d="M1059,563.4 L1088,565.5 Q1094,566.5 1096,572 L1096,587 Q1094,592 1088,592 L1059,591.6 Q1056.4,591.6 1056.4,588 L1056.4,566 Q1056.4,563.4 1059,563.4 Z" stroke-width="2.53"/>
<path d="M1057.2,568 L1087.6,569.3 L1091,566.5" stroke-width="2.30"/>
<path d="M1057.2,591.3 L1057.2,595.6 L1087.6,596.2 L1087.6,592" stroke-width="2.30"/>
<path d="M1064,574.1 L1070,571.8 L1094,572.5 L1097.5,577 L1097.5,585 L1089.9,585.8 L1089.9,581.7 L1064,580.8 Z" stroke-width="2.53"/>
<path d="M1070,575.5 L1089.9,576.5 L1089.9,581.7 M1089.9,576.5 L1097.5,577" stroke-width="1.84"/>
</g>
</g>
<text x="215.2" y="268.9" font-size="34.5" letter-spacing="0.6" style="font-family:'Liberation Sans',sans-serif" fill="#000">(2)</text>
<text x="858.3" y="700.8" font-size="33" style="font-family:'Liberation Sans',sans-serif" fill="#000">(</text><text x="887.6" y="700.8" font-size="33" style="font-family:'Liberation Sans',sans-serif" fill="#000">)</text><path d="M878.6,677.4 L881.8,677.4 L881.8,700.6 L878.6,700.6 L878.6,682.5 Q875,685.5 870.9,687.6 L870.9,684.6 Q876,682 878.6,677.4 Z" fill="#000" stroke="none"/>
</svg>
</body></html>
